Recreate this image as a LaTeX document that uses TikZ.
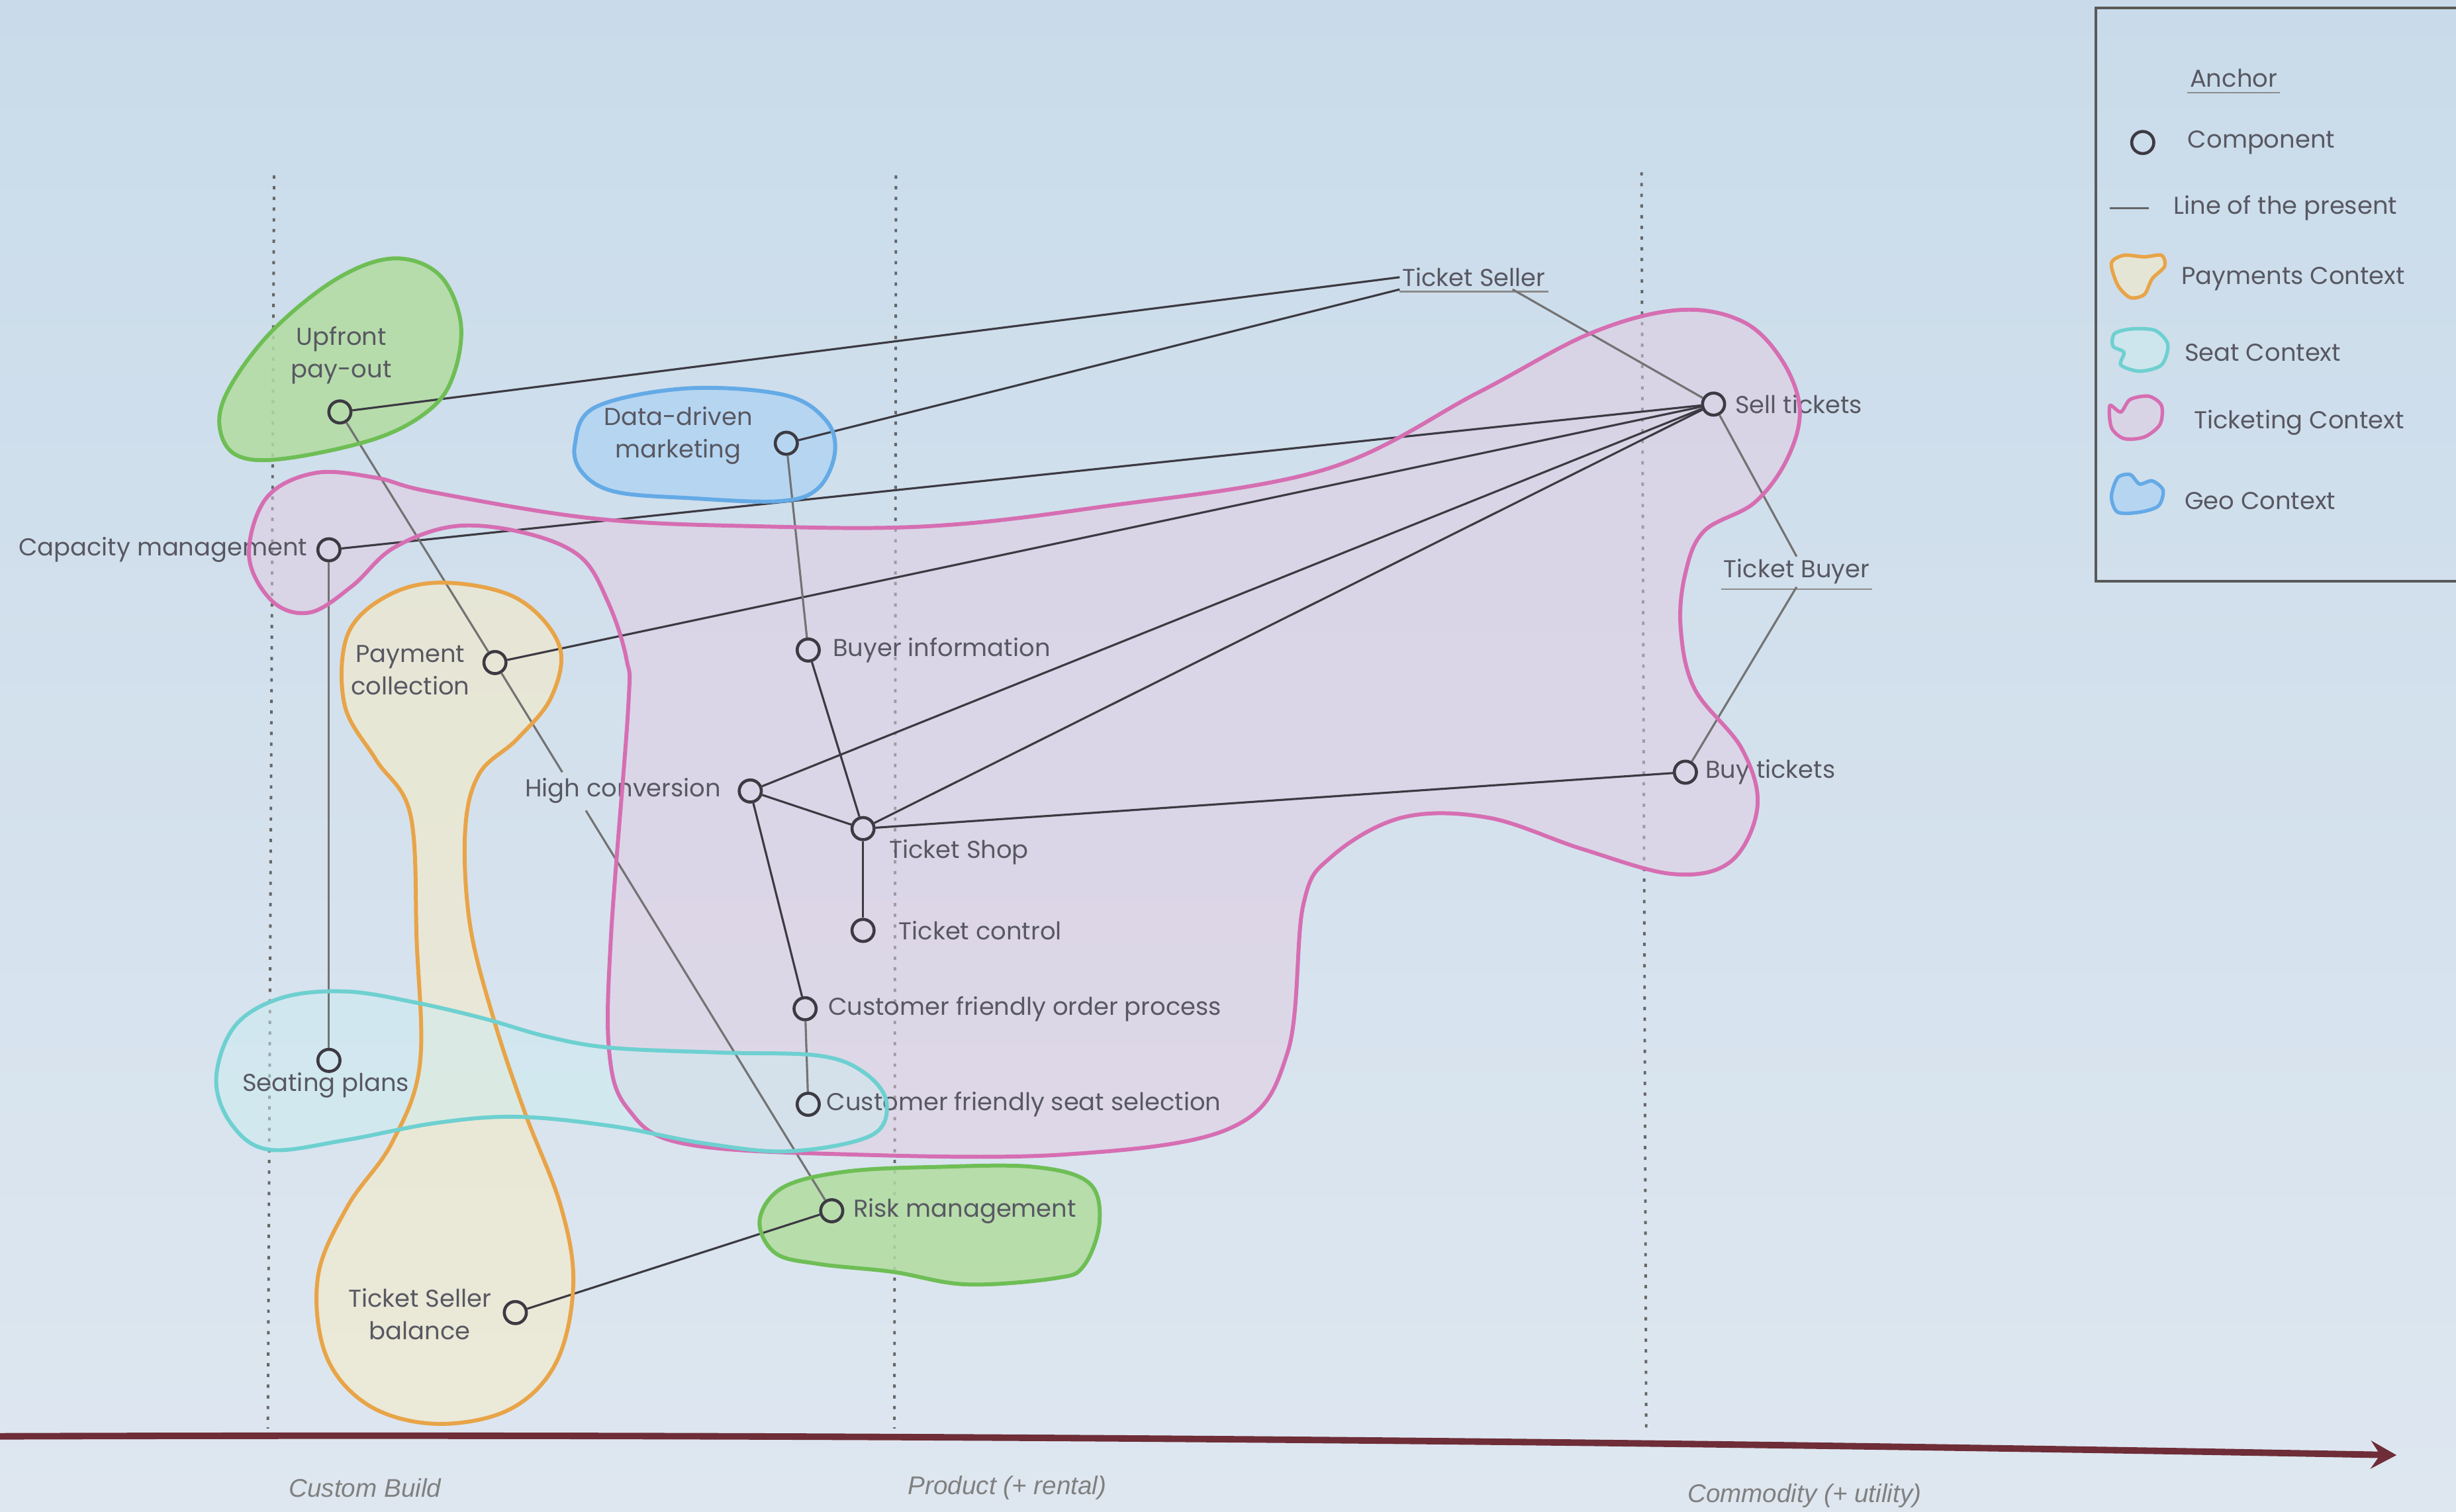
\documentclass[tikz,border=0pt]{standalone}
\usepackage{fontspec}
\newfontfamily\hand{Poppins}
\newfontfamily\axisfont{Liberation Sans}
\usetikzlibrary{calc,arrows.meta}
\definecolor{bgtop}{RGB}{201,219,234}
\definecolor{bgbot}{RGB}{222,231,240}
\definecolor{pinkS}{RGB}{214,110,178}
\definecolor{pinkF}{RGB}{226,204,226}
\definecolor{orS}{RGB}{232,164,72}
\definecolor{orF}{RGB}{245,235,200}
\definecolor{tealS}{RGB}{110,208,208}
\definecolor{tealF}{RGB}{205,236,240}
\definecolor{grS}{RGB}{110,190,85}
\definecolor{grF}{RGB}{178,220,160}
\definecolor{blS}{RGB}{100,170,230}
\definecolor{blF}{RGB}{178,212,242}
\definecolor{axisC}{RGB}{110,45,55}
\definecolor{txt}{RGB}{88,88,98}
\definecolor{edgeC}{RGB}{60,58,66}
\begin{document}
\begin{tikzpicture}[x=0.02366cm,y=-0.02366cm,
  comp/.style={circle,draw=edgeC,line width=1.3pt,minimum size=9.5pt,inner sep=0pt},
  lbl/.style={font=\hand\fontsize{10.5}{14}\selectfont,text=txt,inner sep=1pt},
  edge/.style={draw=edgeC,line width=0.9pt},
  lightedge/.style={draw=black!55,line width=0.9pt},
  vline/.style={draw=black!60,line width=1.1pt,dash pattern=on 1.4pt off 3.2pt},
  blobline/.style={line width=1.7pt},
  uline/.style={draw=black!45,line width=0.7pt},
  axlbl/.style={font=\axisfont\itshape\fontsize{11}{13}\selectfont,text=black!50},
]
% background
\fill[top color=bgtop,bottom color=bgbot] (0,0) rectangle (1568,965);
\useasboundingbox (0,0) rectangle (1568,965);

% evolution dotted lines
\draw[vline] (175,112) -- (171,912);
\draw[vline] (572,112) -- (571,912);
\draw[vline] (1048,110) -- (1051,915);

% blob fills
\def\pinkpts{(159,355) (170,318) (201,302) (240,305) (275,314) (379,331) (483,336) (592,336) (700,324) (845,300) (943,251) (1015,213) (1071,198) (1112,205) (1137,229) (1149,261) (1141,293) (1120,321) (1088,339) (1076,366) (1073,401) (1082,440) (1112,478) (1122,515) (1105,550) (1068,558) (1010,542) (950,522) (895,522) (850,547) (832,578) (822,672) (786,720) (681,737) (541,737) (436,730) (401,708) (389,672) (390,599) (401,453) (400,421) (388,384) (370,355) (334,340) (290,336) (251,350) (225,374) (198,391) (174,384)}
\def\orpts{(284,372) (330,382) (357,412) (352,445) (330,472) (306,494) (297,530) (300,590) (315,650) (335,710) (358,770) (366,820) (355,870) (325,900) (278,909) (235,897) (208,865) (203,815) (222,770) (250,730) (268,680) (266,600) (262,520) (240,485) (220,450) (222,405) (248,380)}
\def\tealpts{(138,689) (150,655) (180,637) (221,633) (265,640) (308,650) (350,662) (391,669) (460,672) (523,674) (552,685) (566,704) (556,725) (504,735) (450,730) (391,719) (330,713) (278,717) (220,728) (172,734) (148,718)}
\def\grApts{(251,165) (280,175) (294,205) (290,238) (275,261) (240,280) (180,293) (150,290) (140,270) (148,245) (175,210) (215,178)}
\def\blpts{(367,284) (380,260) (438,248) (500,252) (527,268) (533,289) (522,312) (497,320) (440,318) (393,314) (372,302)}
\def\grBpts{(485,779) (500,758) (540,748) (598,745) (660,745) (695,755) (702,780) (692,808) (674,816) (617,820) (570,812) (523,807) (495,800)}

\fill[pinkF,fill opacity=0.5] plot[smooth cycle,tension=0.6] coordinates {\pinkpts};
\fill[orF,fill opacity=0.6] plot[smooth cycle,tension=0.6] coordinates {\orpts};
\fill[tealF,fill opacity=0.5] plot[smooth cycle,tension=0.6] coordinates {\tealpts};
\fill[grF,fill opacity=0.85] plot[smooth cycle,tension=0.6] coordinates {\grApts};
\fill[blF,fill opacity=0.85] plot[smooth cycle,tension=0.6] coordinates {\blpts};
\fill[grF,fill opacity=0.85] plot[smooth cycle,tension=0.6] coordinates {\grBpts};

% anchors
\node[lbl] (seller) at (941,177) {Ticket Seller};
\draw[uline] ([yshift=-1pt]seller.south west) -- ([yshift=-1pt]seller.south east);
\node[lbl] (buyer) at (1147,365) {Ticket Buyer};
\draw[uline] ([yshift=-1pt]buyer.south west) -- ([yshift=-1pt]buyer.south east);

% components
\node[comp] (sell) at (1094,258) {};
\node[comp] (buy) at (1076,493) {};
\node[comp] (upfront) at (217,263) {};
\node[comp] (ddm) at (502,283) {};
\node[comp] (cap) at (210,351) {};
\node[comp] (paycol) at (316,423) {};
\node[comp] (buyinfo) at (516,415) {};
\node[comp] (highconv) at (479,505) {};
\node[comp] (shop) at (551,529) {};
\node[comp] (control) at (551,594) {};
\node[comp] (order) at (514,644) {};
\node[comp] (seatsel) at (516,705) {};
\node[comp] (seating) at (210,677) {};
\node[comp] (risk) at (531,773) {};
\node[comp] (balance) at (329,838) {};

% labels
\node[lbl,anchor=west] (sell-l) at (1106,258) {Sell tickets};
\node[lbl,anchor=west] (buy-l) at (1087,493) {Buy tickets};
\node[lbl,align=center] (upfront-l) at (218,227) {Upfront\\pay-out};
\node[lbl,align=center] (ddm-l) at (433,278) {Data-driven\\marketing};
\node[lbl,anchor=east] (cap-l) at (198,351) {Capacity management};
\node[lbl,align=center] (paycol-l) at (262,428) {Payment\\collection};
\node[lbl,anchor=west] (buyinfo-l) at (530,415) {Buyer information};
\node[lbl,anchor=east] (highconv-l) at (462,505) {High conversion};
\node[lbl,anchor=west] (shop-l) at (566,544) {Ticket Shop};
\node[lbl,anchor=west] (control-l) at (572,594) {Ticket control};
\node[lbl,anchor=west] (order-l) at (527,644) {Customer friendly order process};
\node[lbl,anchor=west] (seatsel-l) at (526,705) {Customer friendly seat selection};
\node[lbl] (seating-l) at (208,693) {Seating plans};
\node[lbl,anchor=west] (risk-l) at (543,773) {Risk management};
\node[lbl,align=center] (balance-l) at (268,839) {Ticket Seller\\balance};

% connectors
\draw[edge] (seller.west) -- (upfront);
\draw[edge] (seller.south west) -- (ddm);
\draw[lightedge] ($(seller.south west)!0.76!(seller.south east)$) -- (sell);
\draw[lightedge] (sell) -- (buyer.north);
\draw[lightedge] (buyer.south) -- (buy);
\draw[edge] (sell) -- (cap);
\draw[edge] (sell) -- (paycol);
\draw[edge] (sell) -- (highconv);
\draw[edge] (sell) -- (shop);
\draw[edge] (buy) -- (shop);
\draw[lightedge] (upfront) -- (paycol);
\draw[lightedge] (paycol) -- ($(paycol)!0.2!(risk)$);
\draw[lightedge] ($(paycol)!0.27!(risk)$) -- (risk);
\draw[lightedge] (cap) -- (seating);
\draw[lightedge] (ddm) -- (buyinfo);
\draw[edge] (buyinfo) -- (shop);
\draw[edge] (highconv) -- (shop);
\draw[edge] (highconv) -- (order);
\draw[lightedge] (order) -- (seatsel);
\draw[edge] (shop) -- (control);
\draw[edge] (risk) -- (balance);

% blob outlines on top
\draw[pinkS,blobline] plot[smooth cycle,tension=0.6] coordinates {\pinkpts};
\draw[orS,blobline] plot[smooth cycle,tension=0.6] coordinates {\orpts};
\draw[tealS,blobline] plot[smooth cycle,tension=0.6] coordinates {\tealpts};
\draw[grS,blobline] plot[smooth cycle,tension=0.6] coordinates {\grApts};
\draw[blS,blobline] plot[smooth cycle,tension=0.6] coordinates {\blpts};
\draw[grS,blobline] plot[smooth cycle,tension=0.6] coordinates {\grBpts};

% evolution axis
\draw[axisC,line width=2.8pt,-{Stealth[length=11pt,width=12pt,inset=4pt]}] (0,917) .. controls (600,915) and (1100,921) .. (1530,929);
\node[axlbl] (ax1) at (233,950) {Custom Build};
\node[axlbl] (ax2) at (643,950) {Product (+ rental)};
\node[axlbl] (ax3) at (1152,955) {Commodity (+ utility)};

% legend
\draw[black!65,line width=1pt] (1338,5) rectangle (1580,371);
\node[lbl] (lg-anchor) at (1426,50) {Anchor};
\draw[uline] ([yshift=-1pt]lg-anchor.south west) -- ([yshift=-1pt]lg-anchor.south east);
\node[comp] (lg-comp) at (1368,91) {};
\node[lbl,anchor=west] (lg-comp-l) at (1395,91) {Component};
\coordinate (lg-line-a) at (1347,133);
\coordinate (lg-line-b) at (1372,133);
\draw[black!60,line width=0.9pt] (lg-line-a) -- (lg-line-b);
\node[lbl,anchor=west] (lg-line-l) at (1386,133) {Line of the present};
\begin{scope}[shift={(1364,176)}]
\fill[orF,fill opacity=0.6] plot[smooth cycle] coordinates {(-16,-8) (-8,-13) (5,-12) (16,-13) (18,-6) (10,2) (5,12) (-4,14) (-12,6)};
\draw[orS,line width=1.5pt] plot[smooth cycle] coordinates {(-16,-8) (-8,-13) (5,-12) (16,-13) (18,-6) (10,2) (5,12) (-4,14) (-12,6)};
\end{scope}
\node[lbl,anchor=west] (lg-pay) at (1391,178) {Payments Context};
\begin{scope}[shift={(1366,223)}]
\fill[tealF,fill opacity=0.5] plot[smooth cycle] coordinates {(-16,-10) (-5,-13) (10,-12) (18,-3) (14,10) (0,14) (-12,10) (-10,2) (-17,-2)};
\draw[tealS,line width=1.5pt] plot[smooth cycle] coordinates {(-16,-10) (-5,-13) (10,-12) (18,-3) (14,10) (0,14) (-12,10) (-10,2) (-17,-2)};
\end{scope}
\node[lbl,anchor=west] (lg-seat) at (1393,225) {Seat Context};
\begin{scope}[shift={(1364,267)}]
\fill[pinkF,fill opacity=0.5] plot[smooth cycle] coordinates {(-17,-8) (-10,-4) (-4,-12) (8,-14) (16,-8) (15,4) (5,12) (-8,13) (-16,6)};
\draw[pinkS,line width=1.5pt] plot[smooth cycle] coordinates {(-17,-8) (-10,-4) (-4,-12) (8,-14) (16,-8) (15,4) (5,12) (-8,13) (-16,6)};
\end{scope}
\node[lbl,anchor=west] (lg-tick) at (1399,270) {Ticketing Context};
\begin{scope}[shift={(1364,315)}]
\fill[blF,fill opacity=0.85] plot[smooth cycle] coordinates {(-16,2) (-12,-10) (-4,-12) (2,-6) (10,-8) (17,-2) (14,8) (2,12) (-12,12)};
\draw[blS,line width=1.5pt] plot[smooth cycle] coordinates {(-16,2) (-12,-10) (-4,-12) (2,-6) (10,-8) (17,-2) (14,8) (2,12) (-12,12)};
\end{scope}
\node[lbl,anchor=west] (lg-geo) at (1393,320) {Geo Context};
\end{tikzpicture}
\end{document}
